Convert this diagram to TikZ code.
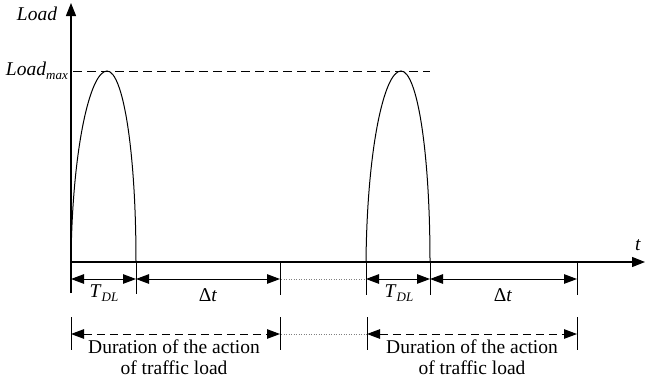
\documentclass[tikz,border=0pt]{standalone}
\usepackage{fontspec}
\setmainfont{Liberation Serif}
\usetikzlibrary{arrows.meta}
\newcommand{\subtx}[1]{\raisebox{-4pt}{\fontsize{13}{13}\selectfont\textit{#1}}}
\begin{document}
\begin{tikzpicture}[x=1pt,y=-1pt,
  axis/.style={line width=1.1pt},
  curve/.style={line width=1pt},
  tick/.style={line width=1pt},
  dimarrow/.style={line width=1pt,{Triangle[length=13pt,width=9.5pt]}-{Triangle[length=13pt,width=9.5pt]}},
  dimdashed/.style={dimarrow,dash pattern=on 8pt off 5pt},
  dotline/.style={line width=0.6pt,gray,dash pattern=on 1pt off 1.5pt},
  lbl/.style={font=\fontsize{19.5}{21}\selectfont,inner sep=0pt},
  dur/.style={lbl,align=center}]
\useasboundingbox (0,0) rectangle (647,386);
% coordinates
\coordinate (O) at (71,262);
\coordinate (ytop) at (71,3);
\coordinate (ybot) at (71,293);
\coordinate (xend) at (645,262);
\coordinate (a1) at (71,262);
\coordinate (b1) at (136,262);
\coordinate (p1) at (107,71);
\coordinate (a2) at (366,262);
\coordinate (b2) at (430,262);
\coordinate (p2) at (401,71);
\coordinate (c1) at (280,262);
\coordinate (c2) at (577,262);
% axes
\draw[axis,-{Triangle[length=13pt,width=10pt]}] (ybot) -- (ytop);
\draw[axis,-{Triangle[length=13pt,width=10pt]}] (O) -- (xend);
\node[lbl] (loadlbl) at (37,14) {\textit{Load}};
\node[lbl] (tlbl) at (638,245) {\textit{t}};
\node[lbl,anchor=east] (lmax) at (68,71) {\textit{Load}\subtx{max}};
% load max dashed
\draw[line width=1pt,dash pattern=on 9pt off 5pt] (73,71) -- (430,71);
% pulses
\draw[curve] (a1) .. controls (72,150) and (90,71) .. (p1) .. controls (123,71) and (136,150) .. (b1);
\draw[curve] (a2) .. controls (367,150) and (384,71) .. (p2) .. controls (417,71) and (430,150) .. (b2);
% vertical extension lines
\draw[tick] (b1) -- ++(0,32);
\draw[tick] (c1) -- ++(0,33);
\draw[tick] (a2) -- ++(0,33);
\draw[tick] (b2) -- ++(0,33);
\draw[tick] (c2) -- ++(0,33);
% upper dimension arrows
\draw[dimarrow] (71,279) -- (136,279);
\draw[dimarrow] (136,279) -- (280,279);
\draw[dotline] (281,279) -- (366,279);
\draw[dimarrow] (366,279) -- (430,279);
\draw[dimarrow] (430,279) -- (577,279);
\node[lbl] (tdl1) at (104,293) {\textit{T}\subtx{DL}};
\node[lbl] (dt1) at (208,295) {Δ\textit{t}};
\node[lbl] (tdl2) at (399,293) {\textit{T}\subtx{DL}};
\node[lbl] (dt2) at (503,295) {Δ\textit{t}};
% lower ticks
\draw[tick] (71,317) -- (71,350);
\draw[tick] (280,317) -- (280,350);
\draw[tick] (367,317) -- (367,350);
\draw[tick] (577,317) -- (577,350);
\draw[dimdashed] (71,334) -- (280,334);
\draw[dotline] (281,334) -- (367,334);
\draw[dimdashed] (367,334) -- (577,334);
\node[dur] (d1) at (174,357) {Duration of the action\\of traffic load};
\node[dur] (d2) at (472,357) {Duration of the action\\of traffic load};
\end{tikzpicture}
\end{document}
